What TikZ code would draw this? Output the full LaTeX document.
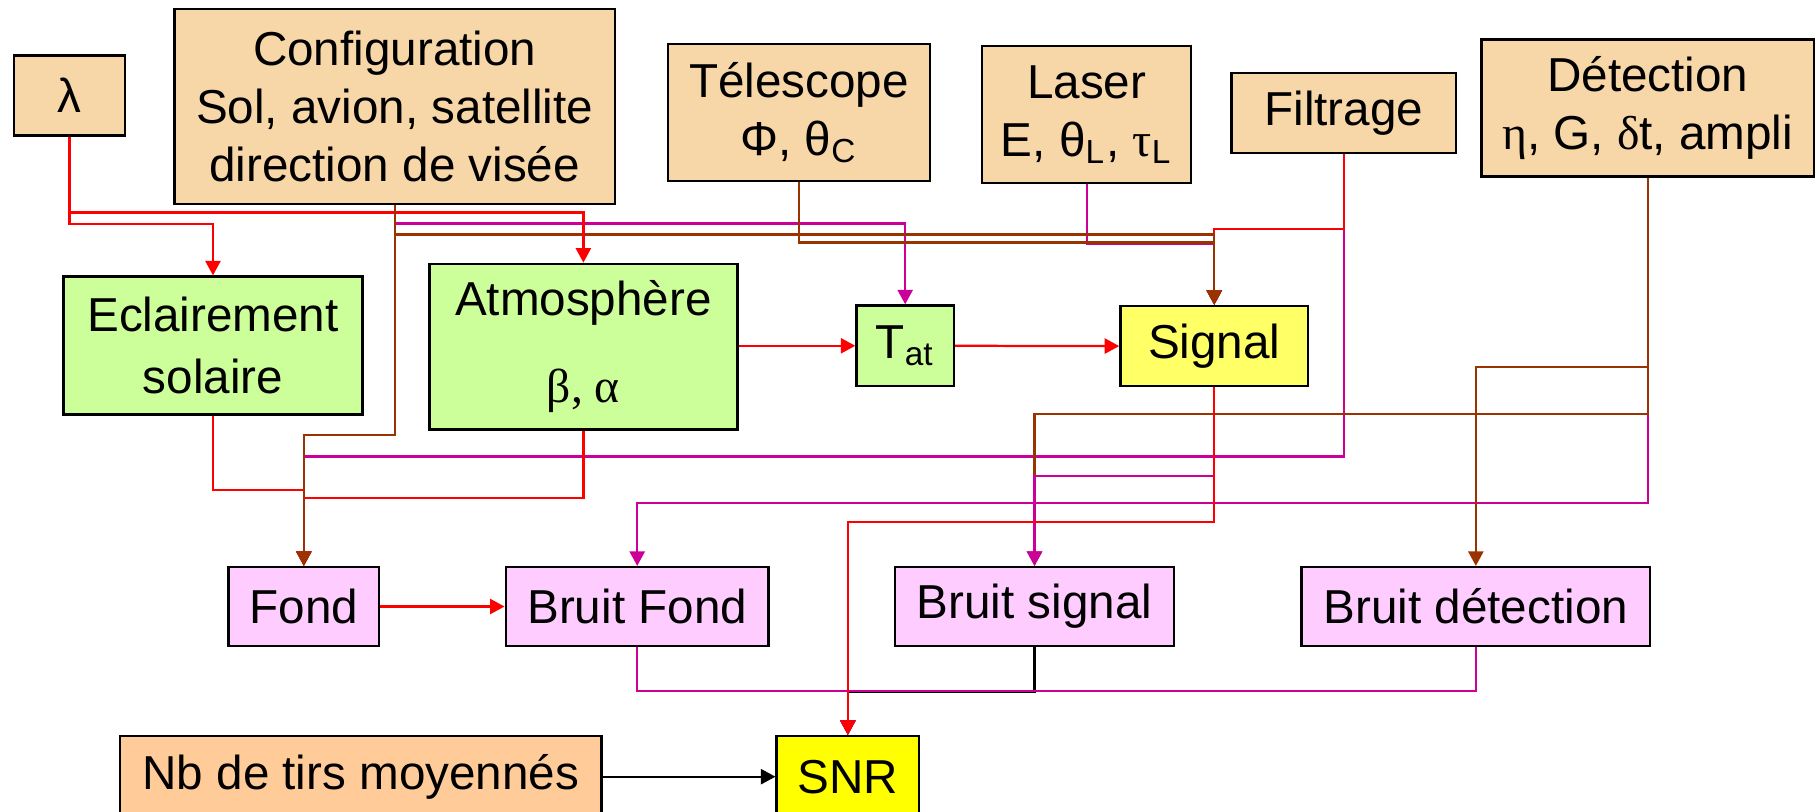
\documentclass[tikz,border=0pt]{standalone}
\usepackage{fontspec}
\setmainfont{Liberation Sans}
\newfontfamily\grkserif{Liberation Serif}
\usetikzlibrary{arrows.meta}
\definecolor{lidarTan}{HTML}{F7D6A8}
\definecolor{lidarPeach}{HTML}{FFCC99}
\definecolor{lidarGreen}{HTML}{CCFF99}
\definecolor{lidarPink}{HTML}{FFCCFF}
\definecolor{lidarLemon}{HTML}{FFFF66}
\definecolor{lidarYellow}{HTML}{FFFF00}
\definecolor{wireRed}{HTML}{FF0000}
\definecolor{wireMagenta}{HTML}{CC0099}
\definecolor{wireBrown}{HTML}{993300}

\begin{document}
\begin{tikzpicture}[x=0.01cm,y=-0.01cm,
  every node/.style={font=\fontsize{11.7}{14.2}\selectfont,align=center,inner sep=0pt,draw=black,line width=0.6pt},
  wire/.style={line width=0.55pt,-{Triangle[length=1.25mm,width=1.3mm]}}]
\useasboundingbox (0,0) rectangle (1568,701);
\node[fill=lidarTan,minimum width=0.96cm,minimum height=0.69cm] (lam) at (60,82.5) {λ};
\node[fill=lidarTan,minimum width=3.8cm,minimum height=1.68cm] (conf) at (341,92) {Configuration\\Sol, avion, satellite\\direction de visée};
\node[fill=lidarTan,minimum width=2.265cm,minimum height=1.185cm] (tel) at (690.25,97.25) {Télescope\\Φ, θ\textsubscript{C}};
\node[fill=lidarTan,minimum width=1.805cm,minimum height=1.18cm] (las) at (938.75,99) {Laser\\E, θ\textsubscript{L}, {\grkserif τ}\textsubscript{L}};
\node[fill=lidarTan,minimum width=1.94cm,minimum height=0.69cm] (filt) at (1161,97.5) {Filtrage};
\node[fill=lidarTan,minimum width=2.87cm,minimum height=1.185cm] (det) at (1423.5,93.25) {Détection\\{\grkserif η}, G, {\grkserif δ}t, ampli};
\node[fill=lidarGreen,minimum width=2.58cm,minimum height=1.19cm] (ecl) at (184,298.5) {Eclairement\\[1pt]solaire};
\node[fill=lidarGreen,minimum width=2.66cm,minimum height=1.43cm] (atm) at (504,299.5) {Atmosphère\\[7.3pt]{\grkserif β, α}};
\node[fill=lidarGreen,minimum width=0.84cm,minimum height=0.695cm] (tat) at (782,298.75) {T\textsubscript{at}};
\node[fill=lidarLemon,minimum width=1.62cm,minimum height=0.69cm] (sig) at (1049,299) {Signal};
\node[fill=lidarPink,minimum width=1.3cm,minimum height=0.68cm] (fond) at (262.5,524) {Fond};
\node[fill=lidarPink,minimum width=2.27cm,minimum height=0.68cm] (bf) at (550.5,524) {Bruit Fond};
\node[fill=lidarPink,minimum width=2.405cm,minimum height=0.68cm] (bs) at (893.75,524) {Bruit signal};
\node[fill=lidarPink,minimum width=3.01cm,minimum height=0.68cm] (bd) at (1275,524) {Bruit détection};
\node[fill=lidarPeach,minimum width=4.155cm,minimum height=0.7cm] (nb) at (311.75,671) {Nb de tirs moyennés};
\node[fill=lidarYellow,minimum width=1.23cm,minimum height=0.7cm] (snr) at (732.5,671) {SNR};
\draw[wire,wireMagenta] (conf.south) -- (conf.south |- 0,193) -| (tat.north);
\draw[wire,wireMagenta] (filt.south) -- (filt.south |- 0,394.3) -| (fond.north);
\draw[wire,wireRed] (filt.south) -- (filt.south |- 0,198) -| (sig.north);
\draw[wire,wireMagenta] (las.south) -- (las.south |- 0,211) -| (sig.north);
\draw[wire,wireBrown] (tel.south) -- (tel.south |- 0,209.5) -| (sig.north);
\draw[wire,wireBrown] (conf.south) -- (conf.south |- 0,202.5) -| (sig.north);
\draw[wire,wireRed] (lam.south) -- (lam.south |- 0,183.5) -| (atm.north);
\draw[wire,wireRed] (lam.south) -- (lam.south |- 0,193.8) -| (ecl.north);
\draw[wire,wireRed] (ecl.south) -- (ecl.south |- 0,423.4) -| (fond.north);
\draw[wire,wireRed] (atm.south) -- (atm.south |- 0,430) -| (fond.north);
\draw[wire,wireBrown] (conf.south) -- (conf.south |- 0,375.5) -| (fond.north);
\draw[wire,wireRed] (atm.east |- tat.west) -- (tat.west);
\draw[wire,wireRed] (tat.east) -- (sig.west);
\draw[wire,wireRed] (fond.east) -- (bf.west);
\draw[wire,wireMagenta] (det.south) -- (det.south |- 0,434.6) -| (bf.north);
\draw[wire,wireBrown] (det.south) -- (det.south |- 0,317) -| (bd.north);
\draw[wire,wireBrown] (det.south) -- (det.south |- 0,357.7) -| (bs.north);
\draw[wire,wireMagenta] (sig.south) -- (sig.south |- 0,411) -| (bs.north);
\draw[wire,wireMagenta] (bf.south) -- (bf.south |- 0,596.7) -| (snr.north);
\draw[wire,black] (bs.south) -- (bs.south |- 0,597.6) -| (snr.north);
\draw[wire,wireMagenta] (bd.south) -- (bd.south |- 0,596.7) -| (snr.north);
\draw[wire,black] (nb.east) -- (snr.west);
\draw[wire,wireRed] (sig.south) -- (sig.south |- 0,451.3) -| (snr.north);
\end{tikzpicture}
\end{document}
